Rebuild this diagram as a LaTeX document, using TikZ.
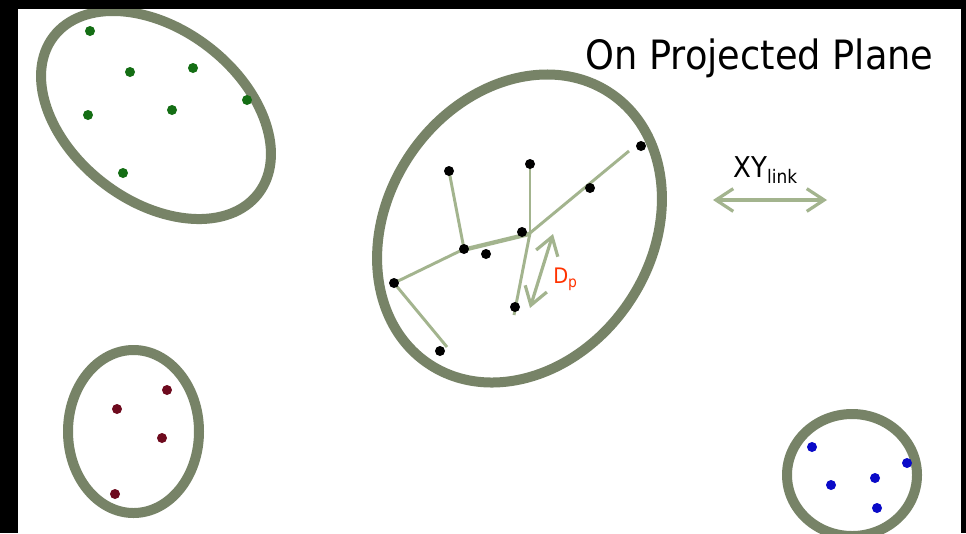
\documentclass[tikz,border=0pt]{standalone}
\usepackage{fontspec}
\setmainfont{DejaVu Sans}[FakeStretch=0.91]
\usetikzlibrary{arrows.meta}
\definecolor{ringc}{RGB}{119,131,103}
\definecolor{linkc}{RGB}{163,180,142}
\definecolor{dpred}{RGB}{255,51,0}
\definecolor{gdot}{RGB}{20,110,20}
\definecolor{mdot}{RGB}{110,10,30}
\definecolor{bdot}{RGB}{10,10,200}
\pgfdeclarelayer{bg}
\pgfsetlayers{bg,main}
\begin{document}
\begin{tikzpicture}[x=0.75pt,y=-0.75pt,
  ringst/.style={draw=ringc,line width=7.5pt},
  dotst/.style={circle,inner sep=0pt,minimum size=7.5pt},
  gd/.style={dotst,fill=gdot},
  md/.style={dotst,fill=mdot},
  bd/.style={dotst,fill=bdot},
  kd/.style={dotst,fill=black},
  linkst/.style={draw=linkc,line width=2.2pt},
  arrst/.style={draw=linkc,line width=2.4pt,{Straight Barb[length=13pt,width=17pt]}-{Straight Barb[length=13pt,width=17pt]}},
  lbl/.style={anchor=base west,inner sep=0pt}
]
\useasboundingbox (0,0) rectangle (966,533);
\clip (0,0) rectangle (966,533);
\begin{pgfonlayer}{bg}
\fill[white] (0,0) rectangle (966,533);
\end{pgfonlayer}

% rings
\draw[ringst, rotate around={-37.5:(156,115)}] (156,115) ellipse [x radius=129, y radius=86];
\draw[ringst, rotate around={56:(519.5,228.5)}] (519.5,228.5) ellipse [x radius=163, y radius=132];
\draw[ringst] (133.5,431.5) ellipse [x radius=65.5, y radius=81.5];
\draw[ringst] (852,475) ellipse [x radius=65, y radius=61];

% green cluster
\node[gd] (g1) at (90,31) {};
\node[gd] (g2) at (130,72) {};
\node[gd] (g3) at (193,68) {};
\node[gd] (g4) at (247,100) {};
\node[gd] (g5) at (88,115) {};
\node[gd] (g6) at (172,110) {};
\node[gd] (g7) at (123,173) {};

% maroon cluster
\node[md] (m1) at (167,390) {};
\node[md] (m2) at (117,409) {};
\node[md] (m3) at (162,438) {};
\node[md] (m4) at (115,494) {};

% blue cluster
\node[bd] (b1) at (812,447) {};
\node[bd] (b2) at (907,463) {};
\node[bd] (b3) at (875,478) {};
\node[bd] (b4) at (831,485) {};
\node[bd] (b5) at (877,508) {};

% black cluster
\node[kd] (d1) at (449,171) {};
\node[kd] (d2) at (530,164) {};
\node[kd] (d3) at (641,146) {};
\node[kd] (d4) at (590,188) {};
\node[kd] (d5) at (522,232) {};
\node[kd] (d6) at (464,249) {};
\node[kd] (d7) at (486,254) {};
\node[kd] (d8) at (394,283) {};
\node[kd] (d9) at (515,307) {};
\node[kd] (d10) at (440,351) {};
\coordinate (j) at (530,233);
\coordinate (j2) at (530,235);
\coordinate (e3) at (629,151);
\coordinate (e9) at (514,315);
\coordinate (e10) at (447,347);
\coordinate (d6b) at (464,251);

\begin{pgfonlayer}{bg}
\draw[linkst] (d1.center) -- (d6.center);
\draw[linkst] (d8.center) -- (d6.center) -- (j);
\draw[draw=linkc,line width=1.4pt] (d6b) -- (j2);
\draw[linkst] (d2.center) -- (j);
\draw[linkst] (j) -- (e3);
\draw[linkst] (j) -- (e9);
\draw[linkst] (d8.center) -- (e10);
\end{pgfonlayer}

% D_p arrow
\coordinate (p1) at (553,234);
\coordinate (p2) at (530,308);
\draw[arrst] (p1) -- (p2);
\node[lbl,text=dpred] (dp) at (553,283) {\fontsize{16}{19}\selectfont D\raisebox{-3pt}{\fontsize{11.5}{13}\selectfont p}};

% XY_link arrow
\coordinate (x1) at (713,200);
\coordinate (x2) at (827,200);
\draw[arrst] (x1) -- (x2);
\node[lbl] (xy) at (733,177) {\fontsize{21.5}{25}\selectfont XY\raisebox{-4.5pt}{\fontsize{14}{16}\selectfont link}};

% title
\node[lbl] (title) at (585,69) {\fontsize{30.3}{36}\selectfont On Projected Plane};

% black frame
\fill[black] (0,0) rectangle (18,533);
\fill[black] (0,0) rectangle (966,9);
\fill[black] (961,0) rectangle (966,533);
\end{tikzpicture}
\end{document}
